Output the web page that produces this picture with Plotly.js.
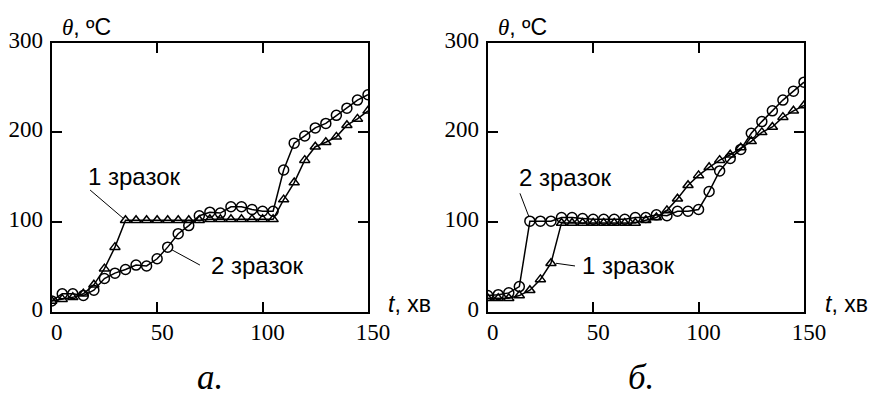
<!DOCTYPE html>
<html>
<head>
<meta charset="utf-8">
<script src="https://cdn.plot.ly/plotly-3.0.1.min.js"></script>
<style>html,body{margin:0;padding:0;background:#fff;}#chart{width:875px;height:401px;}</style>
</head>
<body>
<div id="chart"></div>
<script>
// time, minutes
const time = [0,5,10,15,20,25,30,35,40,45,50,55,60,65,70,75,80,85,90,95,100,105,110,115,120,125,130,135,140,145,150];
// panel а
const a_sample1 = [12,14,16,20,30,48,72,102,102,102,102,102,102,102,102,103,103,103,103,103,103,103,125,144,169,184,189,195,208,215,224];
const a_sample2 = [12,20,20,18,24,37,43,47,52,51,59,72,87,96,107,111,110,117,117,114,112,112,158,188,196,205,210,219,227,236,242];
// panel б
const b_sample1 = [15,15,15,18,24,36,54,99,99,99,99,99,99,99,99,102,105,113,126,141,152,161,169,175,183,190,200,206,217,224,230];
const b_sample2 = [18,19,21,28,101,101,101,105,105,104,103,103,103,103,105,105,108,107,112,112,114,134,157,171,181,199,212,224,236,246,256];
const xTicks = [0,50,100,150];
const yTicks = [0,100,200,300];
const panelLabels = ['а.', 'б.'];
const sampleNames = ['1 зразок', '2 зразок'];

const lineStyle = {color:'#000', width:1.5};
function tri(x, y, xa, ya){
  return {x:x, y:y, xaxis:xa, yaxis:ya, type:'scatter', mode:'lines+markers', name:sampleNames[0],
    line:lineStyle, marker:{symbol:'triangle-up-open', size:9, color:'#000', line:{width:1.5}}, showlegend:false};
}
function circ(x, y, xa, ya){
  return {x:x, y:y, xaxis:xa, yaxis:ya, type:'scatter', mode:'lines+markers', name:sampleNames[1],
    line:lineStyle, marker:{symbol:'circle-open', size:10, color:'#000', line:{width:1.5}}, showlegend:false};
}
const data = [
  circ(time, a_sample2, 'x', 'y'),
  tri(time, a_sample1, 'x', 'y'),
  circ(time, b_sample2, 'x2', 'y2'),
  tri(time, b_sample1, 'x2', 'y2')
];

function tickFont(){ return {family:'Liberation Serif', size:23, color:'#000'}; }
function xax(dom, anchor){
  return {domain:dom, anchor:anchor, range:[0,150], tickmode:'array', tickvals:xTicks, ticktext:xTicks.map(String), ticks:'inside', ticklen:10, tickwidth:2,
    tickcolor:'#000', showline:true, linewidth:2, linecolor:'#000', mirror:'ticks', showgrid:false, zeroline:false,
    tickfont:tickFont(), ticklabelshift:5, ticklabelstandoff:-1, fixedrange:true};
}
function yax(anchor){
  return {domain:[0.2227,0.8935], anchor:anchor, range:[0,300], tickmode:'array', tickvals:yTicks, ticktext:yTicks.map(String), ticks:'inside', ticklen:10, tickwidth:2,
    tickcolor:'#000', showline:true, linewidth:2, linecolor:'#000', mirror:'ticks', showgrid:false, zeroline:false,
    tickfont:tickFont(), ticklabelshift:-3, ticklabelstandoff:2, fixedrange:true};
}
const sansFont = {family:'Liberation Sans', size:24, color:'#000'};
const titleFont = {family:'Liberation Sans', size:23, color:'#000'};
const thetaTitle = '<span style="font-family:Liberation Serif"><i>θ</i></span>, ºC';
const tTitle = '<i>t</i>, хв';

function paperText(x, y, text, font, xanchor){
  return {xref:'paper', yref:'paper', x:x, y:y, text:text, showarrow:false, font:font, xanchor:xanchor||'center', yanchor:'middle'};
}
function dataText(xr, yr, x, y, text){
  return {xref:xr, yref:yr, x:x, y:y, text:text, showarrow:false, font:sansFont, xanchor:'center', yanchor:'middle'};
}
const panelFont = {family:'Liberation Serif', size:35, color:'#000'};
const annotations = [
  paperText(60/875, 1-27/401, thetaTitle, titleFont, 'left'),
  paperText(496/875, 1-27/401, thetaTitle, titleFont, 'left'),
  paperText(386/875, 1-304/401, tTitle, titleFont, 'left'),
  paperText(823/875, 1-304/401, tTitle, titleFont, 'left'),
  paperText(210/875, 1-377/401, '<i>'+panelLabels[0]+'</i>', panelFont),
  paperText(641/875, 1-377/401, '<i>'+panelLabels[1]+'</i>', panelFont),
  dataText('x','y', 39.5, 151, sampleNames[0]),
  dataText('x','y', 97.5, 52, sampleNames[1]),
  dataText('x2','y2', 36.7, 150, sampleNames[1]),
  dataText('x2','y2', 66.6, 52, sampleNames[0])
];
function leader(xr, yr, x0, y0, x1, y1){
  return {type:'line', xref:xr, yref:yr, x0:x0, y0:y0, x1:x1, y1:y1, line:{color:'#000', width:1}};
}
const shapes = [
  leader('x','y', 18.2, 135.7, 34, 104),
  leader('x','y', 70.3, 52, 57, 69),
  leader('x2','y2', 15.3, 132, 19.6, 105.6),
  leader('x2','y2', 41.4, 51, 32.4, 54)
];
const layout = {
  width:875, height:401, margin:{l:0, r:0, t:0, b:0}, paper_bgcolor:'#fff', plot_bgcolor:'#fff',
  font:{family:'Liberation Serif', size:22, color:'#000'},
  showlegend:false,
  xaxis:xax([51.7/875, 368/875], 'y'),
  yaxis:yax('x'),
  xaxis2:xax([487.7/875, 804/875], 'y2'),
  yaxis2:yax('x2'),
  annotations:annotations, shapes:shapes
};
Plotly.newPlot('chart', data, layout, {displayModeBar:false, staticPlot:true});
</script>
</body>
</html>
